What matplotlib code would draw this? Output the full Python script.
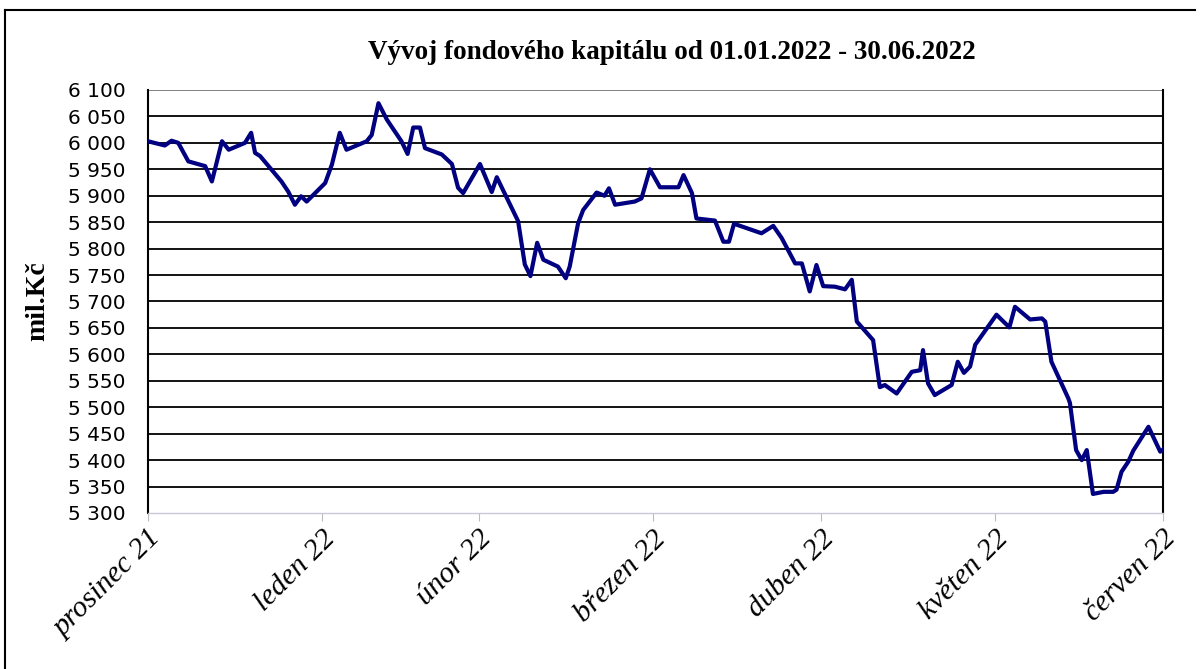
import datetime as dt
import matplotlib.pyplot as plt
from matplotlib.lines import Line2D
from matplotlib.transforms import ScaledTranslation

# day offset from 1.1.2022 and fund capital (mil. Kč)
days = [0.0, 3.0, 4.2, 5.4, 7.2, 10.2, 11.4, 13.2, 14.4, 17.3, 18.4, 19.1, 20.0,
        23.8, 25.0, 26.2, 27.3, 28.3, 31.6, 32.8, 34.2, 35.4, 39.0, 39.9, 41.1,
        42.6, 45.2, 46.3, 47.3, 48.5, 49.4, 52.4, 54.2, 55.3, 56.2, 59.2, 61.3,
        62.2, 66.0, 67.2, 68.2, 69.4, 70.5, 71.7, 73.1, 74.5, 75.2, 76.7, 77.6,
        80.0, 81.4, 82.2, 83.3, 86.8, 88.0, 89.5, 91.3, 94.6, 95.5, 97.0, 97.8,
        101.1, 102.6, 103.6, 104.5, 109.4, 111.5, 113.0, 115.4, 116.6, 118.0,
        119.2, 120.4, 122.5, 124.3, 125.5, 126.4, 129.3, 130.5, 131.4, 133.5,
        136.2, 137.7, 138.2, 139.1, 140.3, 143.3, 144.4, 145.5, 146.6, 147.5,
        151.3, 153.6, 154.6, 157.3, 159.4, 160.0, 161.1, 164.1, 164.4, 165.5,
        166.5, 167.4, 168.5, 170.4, 172.1, 172.7, 173.6, 174.8, 175.7, 178.4,
        180.5, 181.0]
capital = [6003, 5995, 6004, 6000, 5965, 5956, 5927, 6003, 5987, 6000, 6019, 5981, 5975,
           5927, 5908, 5883, 5899, 5889, 5924, 5959, 6019, 5987, 6003, 6015, 6075,
           6044, 6003, 5979, 6029, 6029, 5990, 5978, 5960, 5915, 5905, 5960, 5907,
           5935, 5852, 5770, 5748, 5811, 5779, 5773, 5766, 5744, 5766, 5848, 5873,
           5906, 5900, 5914, 5883, 5889, 5895, 5950, 5916, 5916, 5939, 5905, 5857,
           5853, 5813, 5813, 5847, 5829, 5843, 5820, 5772, 5772, 5719,
           5769, 5729, 5728, 5723, 5741, 5662, 5627, 5538, 5542, 5526,
           5567, 5570, 5608, 5545, 5523, 5542, 5586, 5565, 5577, 5618,
           5675, 5651, 5690, 5666, 5668, 5662, 5586, 5517, 5508, 5419,
           5400, 5419, 5336, 5340, 5340, 5344, 5378, 5397, 5418, 5463,
           5416, 5420]

month_labels = ['prosinec 21', 'leden 22', 'únor 22', 'březen 22',
                'duben 22', 'květen 22', 'červen 22']
start = dt.date(2022, 1, 1)
month_pos = [(dt.date(2022, m, 1) - start).days for m in range(1, 8)]

y_ticks = list(range(5300, 6101, 50))

fig = plt.figure(figsize=(12, 6.69), dpi=100)
ax = fig.add_axes([0.1233, 0.2332, 0.9692 - 0.1233, 0.8655 - 0.2332])

for v in y_ticks[1:-1]:
    ax.axhline(v, color='black', lw=1.3, zorder=1)
ax.axhline(6100, color='#777777', lw=1.3, zorder=1)

ax.plot(days, capital, color='#000080', lw=3.0, zorder=3, solid_joinstyle='round')

ax.set_xlim(month_pos[0], month_pos[-1])
ax.set_ylim(5300, 6100)
ax.set_yticks(y_ticks)
ax.set_yticklabels([f'{v // 1000} {v % 1000:03d}' for v in y_ticks],
                   fontsize=14.5, family='DejaVu Sans')
ax.set_xticks(month_pos)
ax.set_xticklabels(month_labels, rotation=45, ha='right', rotation_mode='anchor',
                   fontsize=21.5, family='Liberation Serif', style='italic')
shift = ScaledTranslation(-8 / 100, 5 / 100, fig.dpi_scale_trans)
for lbl in ax.get_xticklabels():
    lbl.set_transform(lbl.get_transform() + shift)
ax.tick_params(axis='y', length=0, pad=16)
ax.tick_params(axis='x', length=6, color='#bbbbbb', pad=3)

for s in ['left', 'right']:
    ax.spines[s].set_color('black')
    ax.spines[s].set_linewidth(1.5)
ax.spines['top'].set_visible(False)
ax.spines['bottom'].set_color('#c8c8d8')
ax.spines['bottom'].set_linestyle((0, (2, 1)))
ax.spines['bottom'].set_linewidth(1.0)

ax.set_ylabel('mil.Kč', fontsize=20, fontweight='bold', family='Liberation Serif')
ax.yaxis.set_label_coords(-0.0966, 0.5)

fig.text(0.56, 0.922, 'Vývoj fondového kapitálu od 01.01.2022 - 30.06.2022',
         ha='center', va='center', fontsize=19.5, fontweight='bold',
         family='Liberation Serif')

# outer frame of the chart
fig.add_artist(Line2D([0.004, 0.004], [0.0, 0.985], color='black', lw=1.5,
                      transform=fig.transFigure))
fig.add_artist(Line2D([0.004, 0.996], [0.985, 0.985], color='black', lw=1.5,
                      transform=fig.transFigure))

fig.savefig('out.png', dpi=100)
